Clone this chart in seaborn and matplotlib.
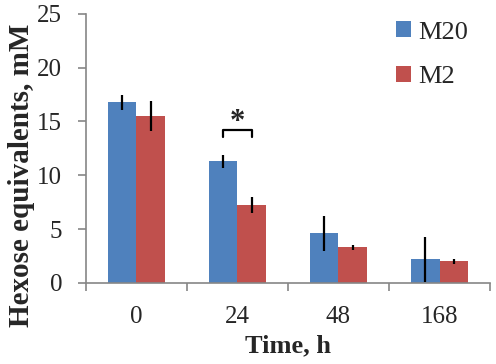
import pandas as pd
import numpy as np
import seaborn as sns
import matplotlib.pyplot as plt

# values
times = ['0', '24', '48', '168']
m20 = [16.8, 11.3, 4.6, 2.2]
m20_err = [0.7, 0.6, 1.6, 2.1]
m2 = [15.5, 7.2, 3.3, 2.0]
m2_err = [1.4, 0.75, 0.25, 0.25]

df = pd.DataFrame({
    'Time': times * 2,
    'value': m20 + m2,
    'group': ['M20'] * 4 + ['M2'] * 4,
})

sns.set_style('white')
plt.rcParams['font.family'] = ['Liberation Serif', 'DejaVu Serif']

fig = plt.figure(figsize=(4.96, 3.64), dpi=100)
ax = fig.add_axes([0.173, 0.223, 0.815, 0.739])

colors = {'M20': '#4F81BD', 'M2': '#C0504D'}
sns.barplot(data=df, x='Time', y='value', hue='group', palette=colors,
            width=0.57, gap=0, errorbar=None, ax=ax, saturation=1,
            edgecolor='none')
bars = list(ax.containers)

# error bars, placed on the centres of seaborn's bars
for cont, errs in zip(bars, [m20_err, m2_err]):
    xs = [p.get_x() + p.get_width() / 2 for p in cont.patches]
    hs = [p.get_height() for p in cont.patches]
    ax.errorbar(xs, hs, yerr=errs, fmt='none', ecolor='black', elinewidth=1.6, capsize=0)

# significance bracket at 24 h
bx = [c.patches[1].get_x() + c.patches[1].get_width() / 2 for c in bars]
ax.plot([bx[0], bx[0], bx[1], bx[1]], [13.55, 14.2, 14.2, 13.55], color='black', lw=1.6)
ax.text(np.mean(bx), 14.9, '*', ha='center', va='center', fontsize=22, fontweight='bold')

ax.set_ylim(0, 25)
ax.set_xlim(-0.5, 3.5)
ax.set_yticks([0, 5, 10, 15, 20, 25])
ax.set_xticks([-0.5, 0.5, 1.5, 2.5, 3.5])
ax.set_xticklabels([])
ax.set_xticks(range(4), minor=True)
ax.set_xticklabels(times, minor=True)
ax.tick_params(axis='x', which='major', length=6, width=1.2, color='#868686', direction='out', bottom=True)
ax.tick_params(axis='x', which='minor', length=0, labelsize=18, pad=17)
ax.tick_params(axis='y', length=6, width=1.2, color='#868686', direction='out', labelsize=18, left=True, pad=11)

for s in ['top', 'right']:
    ax.spines[s].set_visible(False)
for s in ['left', 'bottom']:
    ax.spines[s].set_color('#868686')
    ax.spines[s].set_linewidth(1.2)

ax.set_ylabel('Hexose equivalents, mM', fontsize=21, fontweight='bold')
ax.yaxis.set_label_coords(-0.126, 0.40)
ax.set_xlabel('Time, h', fontsize=19, fontweight='bold', labelpad=4.5)

handles, labels = ax.get_legend_handles_labels()
ax.legend(handles, labels, loc='upper right', bbox_to_anchor=(1.005, 1.06), frameon=False,
          fontsize=19, handlelength=0.55, handleheight=0.55, handletextpad=0.3,
          labelspacing=0.85)

fig.savefig('out.png', dpi=100)
